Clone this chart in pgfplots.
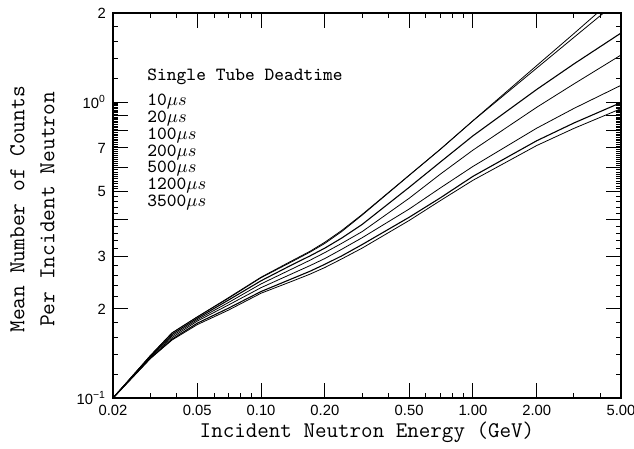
\documentclass[border=0pt]{standalone}
\usepackage{fontspec}
\setmainfont{Liberation Sans}
\usepackage{pgfplots}
\pgfplotsset{compat=1.18}

\begin{document}
\begin{tikzpicture}
\begin{axis}[
    name=ax,
    scale only axis,
    width=254pt, height=192.5pt,
    xmode=log, ymode=log,
    xmin=0.02, xmax=5, ymin=0.1, ymax=2,
    axis line style={line width=0.75pt},
    every tick/.style={black, line width=0.5pt},
    major tick length=7.5pt,
    minor tick length=2.5pt,
    xtick={0.02,0.05,0.1,0.2,0.5,1,2,5},
    xticklabels={0.02,0.05,0.10,0.20,0.50,1.00,2.00,5.00},
    minor xtick={0.03,0.04,0.06,0.07,0.08,0.09,0.3,0.4,0.6,0.7,0.8,0.9,3,4},
    ytick={0.1,0.2,0.3,0.4,0.5,0.6,0.7,0.8,0.9,1,2},
    yticklabels={10\textsuperscript{−1}\hspace{3pt},2,3,,5,,7,,,10\textsuperscript{0}\hspace{5pt},2},
    minor ytick={0.12,0.14,0.16,0.18,0.22,0.24,0.26,0.28,0.32,0.34,0.36,0.38,
        0.42,0.44,0.46,0.48,0.51,0.52,0.53,0.54,0.55,0.56,0.57,0.58,0.59,
        0.61,0.62,0.63,0.64,0.65,0.66,0.67,0.68,0.69,
        0.71,0.72,0.73,0.74,0.75,0.76,0.77,0.78,0.79,
        0.81,0.82,0.83,0.84,0.85,0.86,0.87,0.88,0.89,
        0.91,0.92,0.93,0.94,0.95,0.96,0.97,0.98,0.99,1.2,1.4,1.6,1.8},
    tick label style={font=\fontsize{7.4}{8}\selectfont},
    xlabel={Incident Neutron Energy (GeV)},
    xlabel style={font=\fontsize{11.2}{14}\ttfamily, at={(axis description cs:0.5,-0.088)}, anchor=center},
    ylabel={Mean Number of Counts\\Per Incident Neutron},
    ylabel style={font=\fontsize{11.4}{15}\ttfamily, align=center, at={(axis description cs:-0.159,0.49)}, anchor=center},
    cycle list={{black, solid, line width=0.55pt}},
    no marks,
]
% 10 us
\addplot coordinates {(0.02,0.1) (0.03,0.139) (0.038,0.166) (0.05,0.188) (0.07,0.218) (0.1,0.256) (0.14,0.291) (0.17,0.313) (0.2,0.336) (0.24,0.368) (0.3,0.417) (0.5,0.566) (0.7,0.692) (1,0.865) (2,1.328) (3,1.705) (5,2.35)};
% 20 us
\addplot coordinates {(0.02,0.1) (0.03,0.139) (0.038,0.166) (0.05,0.188) (0.07,0.217) (0.1,0.255) (0.14,0.289) (0.17,0.311) (0.2,0.333) (0.24,0.365) (0.3,0.415) (0.5,0.565) (0.7,0.691) (1,0.864) (2,1.302) (3,1.655) (5,2.236)};
% 100 us
\addplot coordinates {(0.02,0.1) (0.03,0.138) (0.038,0.164) (0.05,0.186) (0.07,0.214) (0.1,0.249) (0.14,0.282) (0.17,0.302) (0.2,0.321) (0.24,0.347) (0.3,0.386) (0.5,0.515) (0.7,0.626) (1,0.769) (2,1.103) (3,1.346) (5,1.711)};
% 200 us
\addplot coordinates {(0.02,0.1) (0.03,0.138) (0.038,0.162) (0.05,0.184) (0.07,0.210) (0.1,0.243) (0.14,0.273) (0.17,0.292) (0.2,0.310) (0.24,0.333) (0.3,0.365) (0.5,0.473) (0.7,0.570) (1,0.688) (2,0.960) (3,1.152) (5,1.442)};
% 500 us
\addplot coordinates {(0.02,0.1) (0.03,0.137) (0.038,0.160) (0.05,0.182) (0.07,0.206) (0.1,0.236) (0.14,0.263) (0.17,0.280) (0.2,0.296) (0.24,0.318) (0.3,0.348) (0.5,0.435) (0.7,0.512) (1,0.606) (2,0.816) (3,0.952) (5,1.139)};
% 1200 us
\addplot coordinates {(0.02,0.1) (0.03,0.136) (0.038,0.158) (0.05,0.179) (0.07,0.201) (0.1,0.229) (0.14,0.253) (0.17,0.268) (0.2,0.283) (0.24,0.302) (0.3,0.330) (0.5,0.408) (0.7,0.474) (1,0.561) (2,0.740) (3,0.850) (5,0.996)};
% 3500 us
\addplot coordinates {(0.02,0.1) (0.03,0.136) (0.038,0.157) (0.05,0.177) (0.07,0.198) (0.1,0.226) (0.14,0.248) (0.17,0.262) (0.2,0.276) (0.24,0.295) (0.3,0.321) (0.5,0.398) (0.7,0.464) (1,0.544) (2,0.713) (3,0.815) (5,0.950)};

\begin{scope}[every node/.style={anchor=west, inner sep=0pt, font=\fontsize{9.3}{10}\ttfamily}]
\node at (axis description cs:0.067,0.834) {Single Tube Deadtime};
\node at (axis description cs:0.067,0.769) {10$\mu s$};
\node at (axis description cs:0.067,0.727) {20$\mu s$};
\node at (axis description cs:0.067,0.683) {100$\mu s$};
\node at (axis description cs:0.067,0.639) {200$\mu s$};
\node at (axis description cs:0.067,0.597) {500$\mu s$};
\node at (axis description cs:0.067,0.553) {1200$\mu s$};
\node at (axis description cs:0.067,0.509) {3500$\mu s$};
\end{scope}
\end{axis}
\pgfresetboundingbox
\path[use as bounding box] ([xshift=-56.5pt,yshift=-25.5pt]ax.south west) rectangle ([xshift=6.5pt,yshift=6.5pt]ax.north east);
\end{tikzpicture}
\end{document}
